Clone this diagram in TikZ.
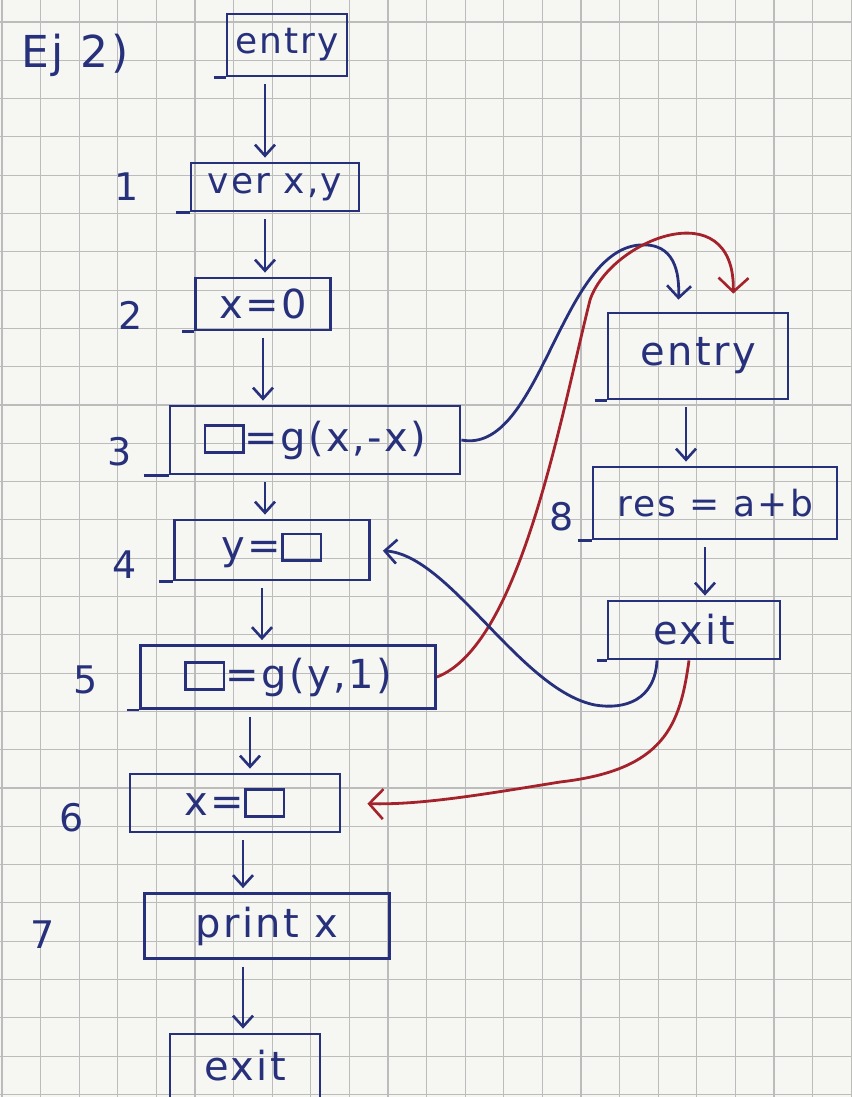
\documentclass[tikz,border=0pt]{standalone}
\usepackage{fontspec}
\usetikzlibrary{arrows.meta}
\newfontfamily\hand{DejaVu Sans}[LetterSpace=6]
\definecolor{ink}{HTML}{27307A}
\definecolor{redink}{HTML}{A3222B}
\definecolor{gridc}{HTML}{BCBCBC}
\definecolor{paper}{HTML}{F6F6F3}
\newcommand{\hole}{{\setlength{\fboxrule}{2.6pt}\setlength{\fboxsep}{0pt}\fbox{\rule{0pt}{0.6em}\hspace{0.9em}}}}
\begin{document}
\begin{tikzpicture}[x=1pt,y=-1pt,
  box/.style={draw=ink,line width=2.8pt,text=ink,inner sep=0pt,
    font=\hand\fontsize{40}{44}\selectfont},
  small/.style={font=\hand\fontsize{36}{40}\selectfont},
  lab/.style={text=ink,font=\hand\fontsize{38}{42}\selectfont},
  tail/.style={draw=ink,line width=2.8pt},
  flow/.style={draw=ink,line width=2.8pt,
    -{Straight Barb[length=11pt,width=20pt,line width=2.6pt]},
    shorten <=7pt,shorten >=4pt},
  call/.style={draw=ink,line width=2.8pt,
    -{Straight Barb[length=12pt,width=24pt,line width=2.6pt]}},
  ret/.style={draw=redink,line width=2.8pt,
    -{Straight Barb[length=14pt,width=30pt,line width=2.6pt]}}]
\useasboundingbox (0,0) rectangle (851,1097);
\fill[paper] (0,0) rectangle (851,1097);
% grid paper
\foreach \i in {0,...,22} \draw[gridc,line width=1.1pt] ({2+38.6*\i},0) -- ({2+38.6*\i},1097);
\foreach \j in {0,...,28} \draw[gridc,line width=1.1pt] (0,{22+38.3*\j}) -- (851,{22+38.3*\j});

% title
\node[lab,font=\hand\fontsize{44}{48}\selectfont] (title) at (75,55) {Ej 2)};

% main column
\node[box,small,minimum width=120pt,minimum height=62pt] (e1) at (287,45) {entry};
\node[box,small,minimum width=168pt,minimum height=48pt] (n1) at (275,187) {ver x,y};
\node[box,minimum width=135pt,minimum height=52pt] (n2) at (263,304) {x=0};
\node[box,minimum width=290pt,minimum height=68pt] (n3) at (315,440) {\hole=g(x,-x)};
\node[box,minimum width=195pt,minimum height=60pt] (n4) at (272,550) {y=\hole};
\node[box,minimum width=295pt,minimum height=63pt] (n5) at (288,677) {\hole=g(y,1)};
\node[box,minimum width=210pt,minimum height=58pt] (n6) at (235,803) {x=\hole};
\node[box,minimum width=245pt,minimum height=65pt] (n7) at (267,926) {print x};
\node[box,minimum width=150pt,minimum height=64pt] (n8) at (245,1066) {exit};

% right column
\node[box,minimum width=180pt,minimum height=86pt] (r1) at (698,356) {entry};
\node[box,small,minimum width=244pt,minimum height=72pt] (r2) at (715,503) {res = a+b};
\node[box,minimum width=172pt,minimum height=58pt] (r3) at (694,630) {exit};

% line numbers
\node[lab] (l1) at (127,187) {1};
\node[lab] (l2) at (131,315) {2};
\node[lab] (l3) at (120,452) {3};
\node[lab] (l4) at (125,565) {4};
\node[lab] (l5) at (86,680) {5};
\node[lab] (l6) at (72,818) {6};
\node[lab] (l7) at (43,935) {7};
\node[lab] (l8) at (562,517) {8};

% tails of the boxes
\draw[tail] ([xshift=-12pt]e1.south west) -- (e1.south west);
\draw[tail] ([xshift=-14pt]n1.south west) -- (n1.south west);
\draw[tail] ([xshift=-12pt]n2.south west) -- (n2.south west);
\draw[tail] ([xshift=-25pt]n3.south west) -- (n3.south west);
\draw[tail] ([xshift=-14pt]n4.south west) -- (n4.south west);
\draw[tail] ([xshift=-12pt]n5.south west) -- (n5.south west);
\draw[tail] ([xshift=-12pt]r1.south west) -- (r1.south west);
\draw[tail] ([xshift=-14pt]r2.south west) -- (r2.south west);
\draw[tail] ([xshift=-10pt]r3.south west) -- (r3.south west);

% flow arrows (near-vertical, as drawn)
\draw[flow] ([xshift=-22pt]e1.south) -- ([xshift=-22pt]e1.south |- n1.north);
\draw[flow] ([xshift=-10pt]n1.south) -- ([xshift=-10pt]n1.south |- n2.north);
\draw[flow] (n2.south) -- (n2.south |- n3.north);
\draw[flow] ([xshift=-50pt]n3.south) -- ([xshift=-50pt]n3.south |- n4.north);
\draw[flow] ([xshift=-10pt]n4.south) -- ([xshift=-10pt]n4.south |- n5.north);
\draw[flow] ([xshift=-38pt]n5.south) -- ([xshift=-38pt]n5.south |- n6.north);
\draw[flow] ([xshift=8pt]n6.south) -- ([xshift=8pt]n6.south |- n7.north);
\draw[flow] ([xshift=-24pt]n7.south) -- ([xshift=-24pt]n7.south |- n8.north);
\draw[flow] ([xshift=-12pt]r1.south) -- ([xshift=-12pt]r1.south |- r2.north);
\draw[flow] ([xshift=-10pt]r2.south) -- ([xshift=-10pt]r2.south |- r3.north);

% call and return edges
\draw[call,shorten >=12pt] (n3.east) .. controls (540,455) and (560,250) .. (640,245)
  .. controls (668,243) and (680,262) .. ([xshift=-20pt]r1.north);
\draw[ret,shorten >=18pt] (n5.east) .. controls (520,645) and (560,420) .. (590,300)
  .. controls (610,240) and (735,190) .. ([xshift=35pt]r1.north);
\draw[call,shorten >=12pt] ([xshift=-37pt]r3.south) .. controls (655,700) and (625,710) .. (595,705)
  .. controls (520,690) and (450,555) .. (n4.east);
\draw[ret,shorten >=26pt] ([xshift=-5pt]r3.south) .. controls (680,725) and (665,770) .. (560,782)
  .. controls (480,795) and (420,805) .. (n6.east);
\end{tikzpicture}
\end{document}
